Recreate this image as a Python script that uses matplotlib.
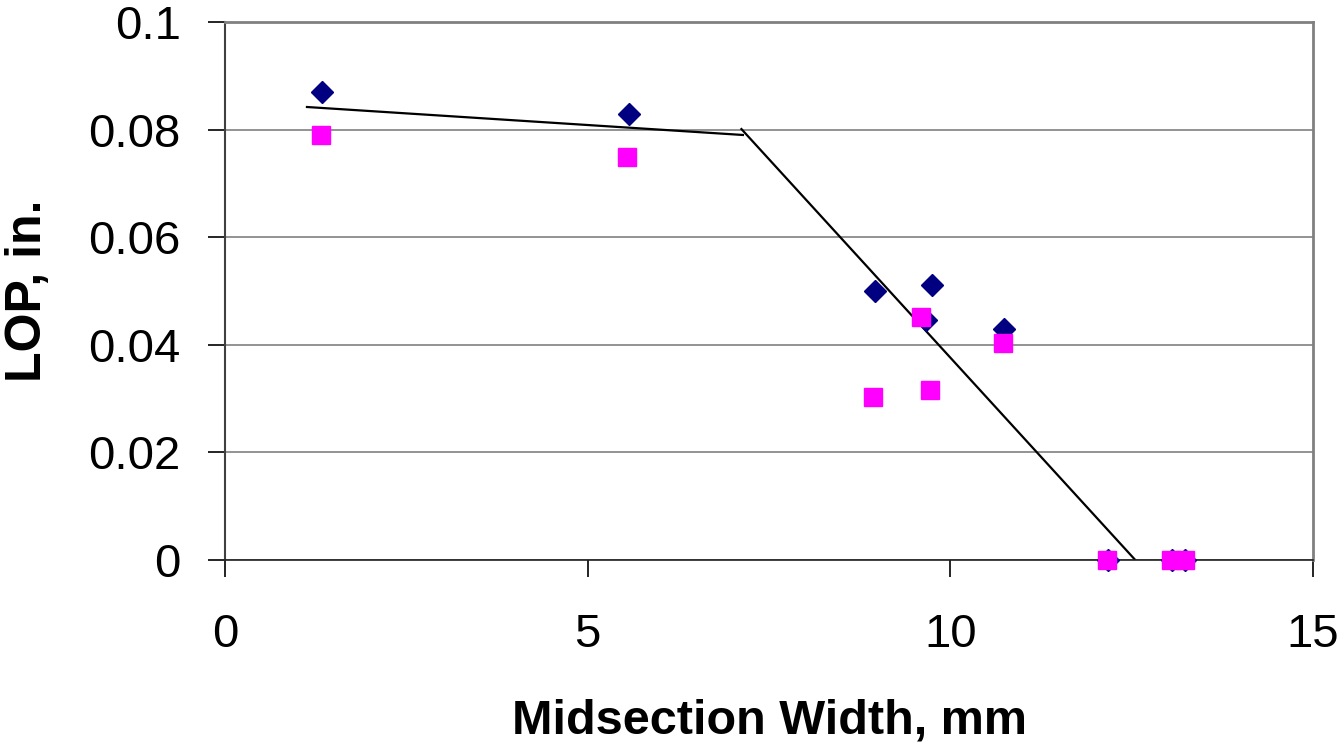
import matplotlib
matplotlib.use("Agg")
import matplotlib.pyplot as plt

# series 1 (navy diamonds)
width_a = [1.34, 5.57, 8.96, 9.66, 9.75, 10.74, 12.17, 13.05, 13.24]
lop_a = [0.0870, 0.0829, 0.0500, 0.0447, 0.0511, 0.0429, 0.0, 0.0, 0.0]

# series 2 (magenta squares)
width_b = [1.32, 5.54, 8.94, 9.60, 9.72, 10.73, 12.16, 13.04, 13.23]
lop_b = [0.0790, 0.0749, 0.0303, 0.0451, 0.0316, 0.0403, 0.0, 0.0, 0.0]

# fitted bilinear trend, two segments
fit1_x = [1.13, 7.14]
fit1_y = [0.0842, 0.0790]
fit2_x = [7.12, 12.55]
fit2_y = [0.0801, 0.0]

plt.rcParams['font.family'] = ['Liberation Sans', 'DejaVu Sans']

fig = plt.figure(figsize=(13.41, 7.43), dpi=100)
ax = fig.add_axes([225 / 1341, 1 - 560 / 743, (1313 - 225) / 1341, (560 - 22) / 743])

ax.set_xlim(0, 15)
ax.set_ylim(0, 0.1)
ax.set_xticks([0, 5, 10, 15])
ax.set_yticks([0, 0.02, 0.04, 0.06, 0.08, 0.1])
ax.set_yticklabels(["0", "0.02", "0.04", "0.06", "0.08", "0.1"])

ax.yaxis.grid(True, color="#808080", linewidth=1.2)
ax.set_axisbelow(True)

for side in ["top", "right"]:
    ax.spines[side].set_color("#808080")
    ax.spines[side].set_linewidth(2)
ax.spines["left"].set_color("#404040")
ax.spines["bottom"].set_color("#202020")
ax.spines["left"].set_linewidth(1.5)
ax.spines["bottom"].set_linewidth(1.2)

ax.tick_params(axis="y", direction="out", length=12, width=1.2, pad=20, labelsize=34)
ax.tick_params(axis="x", direction="out", length=12, width=1.2, pad=26, labelsize=34)

ax.plot(fit1_x, fit1_y, color="black", linewidth=1.6, zorder=2)
ax.plot(fit2_x, fit2_y, color="black", linewidth=1.6, zorder=2)

ax.plot(width_a, lop_a, linestyle="none", marker="D", markersize=11,
        color="#000080", clip_on=False, zorder=3)
ax.plot(width_b, lop_b, linestyle="none", marker="s", markersize=13,
        color="#FF00FF", clip_on=False, zorder=4)

ax.set_xlabel("Midsection Width, mm", fontsize=35, fontweight="bold", labelpad=30)
ax.set_ylabel("LOP, in.", fontsize=36, fontweight="bold", labelpad=27)

fig.savefig("out.png", dpi=100)
